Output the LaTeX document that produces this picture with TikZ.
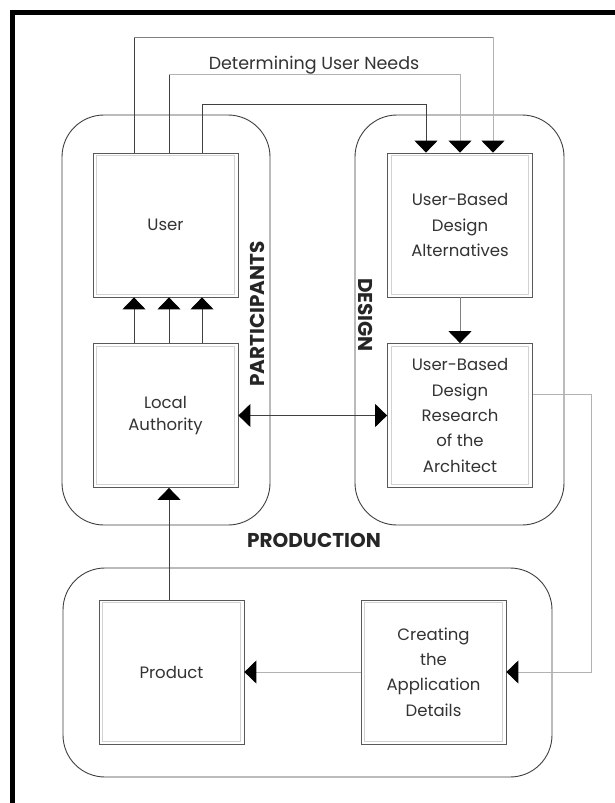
\documentclass[tikz,border=0pt]{standalone}
\usepackage{fontspec}
\setmainfont{Poppins}
\usetikzlibrary{arrows.meta}
\begin{document}
\begin{tikzpicture}[x=1pt,y=-1pt,
  box/.style={draw=black!65, line width=0.8pt, minimum width=145pt, minimum height=144pt, inner sep=0pt, align=center, font=\fontsize{16.5}{25.3}\selectfont, text=black!80},
  cont/.style={draw=black!75, line width=0.9pt, rounded corners=42pt, inner sep=0pt},
  arr/.style={-{Triangle[width=23pt,length=12pt,color=black]}, line width=1pt},
  darr/.style={{Triangle[width=23pt,length=12pt,color=black]}-{Triangle[width=23pt,length=12pt,color=black]}, line width=1pt},
  dk/.style={draw=black!75, line width=1pt},
  md/.style={draw=black!50, line width=1pt},
  lt/.style={draw=black!30, line width=1pt},
  lbl/.style={font=\fontsize{20}{24}\selectfont\bfseries, text=black!85, inner sep=0pt}
]
\useasboundingbox (0,0) rectangle (615,803);
\fill[white] (0,0) rectangle (615,803);
% frame
\fill[black] (10,9.5) rectangle (615,14.5);
\fill[black] (10,9.5) rectangle (15,803);

% containers
\node[cont, minimum width=208pt, minimum height=410pt] (partc) at (166,320) {};
\node[cont, minimum width=209pt, minimum height=410pt] (desc) at (459.5,320) {};
\node[cont, minimum width=489pt, minimum height=209pt] (prodc) at (307.5,672.5) {};

% boxes
\node[box] (user) at (165.5,225) {User};
\node[box, font=\fontsize{16.5}{21.5}\selectfont] (local) at (165.5,415.5) {Local\\Authority};
\node[box] (alt) at (460,225) {User-Based\\Design\\Alternatives};
\node[box] (res) at (460,415.5) {User-Based\\Design\\Research\\of the\\Architect};
\node[box] (prod) at (171.5,672) {Product};
\node[box] (create) at (433.5,672) {Creating\\the\\Application\\Details};
\foreach \n in {user,local,alt,res,prod,create}
  \draw[gray!35, line width=0.9pt] ([xshift=4pt,yshift=-3pt]\n.north west) rectangle ([xshift=-4pt,yshift=3pt]\n.south east);

% labels
\node[font=\fontsize{17.5}{20}\selectfont, text=black!80] (need) at (314,65) {Determining User Needs};
\node[lbl, rotate=90] (part) at (257,314) {PARTICIPANTS};
\node[lbl, rotate=-90] (des) at (366,315) {DESIGN};
\node[lbl] (prodn) at (314,540) {PRODUCTION};

% user needs loops
\coordinate (c1) at (134,37);  \coordinate (c1r) at (493,37);
\coordinate (c2) at (169,74);  \coordinate (c2r) at (460,74);
\coordinate (c3) at (202,104); \coordinate (c3r) at (426,104);
\draw[dk] (user.north -| c1) -- (c1);
\draw[md] (c1) -- (c1r);
\draw[lt,arr] (c1r) -- (alt.north -| c1r);
\draw[dk] (user.north -| c2) -- (c2);
\draw[lt] (c2) -- (c2r);
\draw[lt,arr] (c2r) -- (alt.north -| c2r);
\draw[dk] (user.north -| c3) -- (c3) -- (c3r);
\draw[dk,arr] (c3r) -- (alt.north -| c3r);

% local -> user
\draw[dk,arr] (local.north -| c1) -- (user.south -| c1);
\draw[dk,arr] (local.north -| c2) -- (user.south -| c2);
\draw[dk,arr] (local.north -| c3) -- (user.south -| c3);

% alt -> res
\draw[md,arr] (alt.south) -- (res.north);

% local <-> res
\draw[dk,darr] (local.east) -- (res.west);

% product -> local
\draw[dk,arr] (prod.north -| c2) -- (local.south -| c2);

% res -> create
\coordinate (r1) at (591,394);
\draw[lt,arr] (res.east |- r1) -- (r1) |- (create.east);

% create -> product
\draw[lt,arr] (create.west) -- (prod.east);
\end{tikzpicture}
\end{document}
